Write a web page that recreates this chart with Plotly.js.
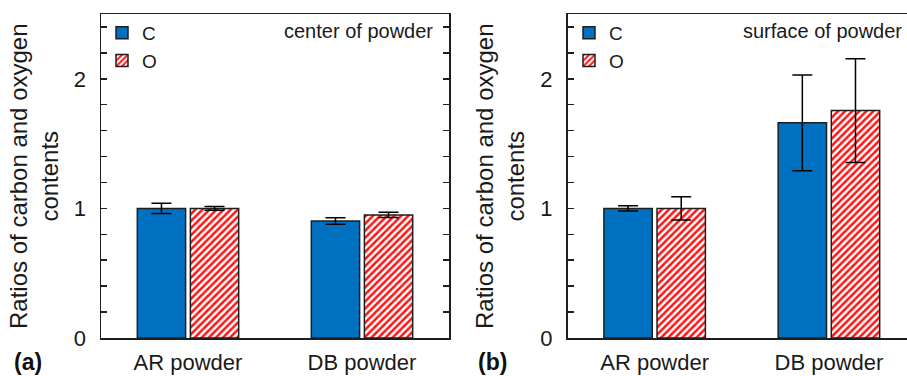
<!DOCTYPE html>
<html>
<head>
<meta charset="utf-8">
<script src="https://cdn.plot.ly/plotly-3.0.1.min.js"></script>
<style>html,body{margin:0;padding:0;background:#fff;}#chart{width:907px;height:376px;}</style>
</head>
<body>
<div id="chart"></div>
<script>
// ---- data ----
var categories = ['AR powder', 'DB powder'];
var centerC = [1.0, 0.903];
var centerCErr = [0.04, 0.025];
var centerO = [1.0, 0.95];
var centerOErr = [0.015, 0.02];
var surfaceC = [1.0, 1.66];
var surfaceCErr = [0.02, 0.37];
var surfaceO = [1.0, 1.755];
var surfaceOErr = [0.09, 0.40];
var seriesNames = ['C', 'O'];
var yTickVals = [0, 1, 2];
var yTickText = ['0', '1', '2'];

var W = 907, H = 376, ML = 0, MR = 0, MT = 14, MB = 38;
function px(x) { return (x - ML) / (W - ML - MR); }
function py(y) { return (H - MB - y) / (H - MT - MB); }

var blue = 'rgb(0,112,192)';
var red = 'rgb(255,20,20)';
var edge = '#1e1e1e';
var FONT = 'Liberation Sans, Arial, sans-serif';

function cTrace(vals, errs, xa, ya, lg) {
  return {
    type: 'bar', x: categories, y: vals, name: seriesNames[0],
    xaxis: xa, yaxis: ya, legend: lg,
    marker: { color: blue, line: { color: edge, width: 1.5 } },
    error_y: { type: 'data', array: errs, visible: true, color: '#000', thickness: 1.5, width: 10 }
  };
}
function oTrace(vals, errs, xa, ya, lg) {
  return {
    type: 'bar', x: categories, y: vals, name: seriesNames[1],
    xaxis: xa, yaxis: ya, legend: lg,
    marker: {
      color: '#fff', line: { color: edge, width: 1.5 },
      pattern: { shape: '/', fgcolor: red, bgcolor: '#fff', size: 5, solidity: 0.5 }
    },
    error_y: { type: 'data', array: errs, visible: true, color: '#000', thickness: 1.5, width: 10 }
  };
}

var data = [
  cTrace(centerC, centerCErr, 'x', 'y', 'legend'),
  oTrace(centerO, centerOErr, 'x', 'y', 'legend'),
  cTrace(surfaceC, surfaceCErr, 'x2', 'y2', 'legend2'),
  oTrace(surfaceO, surfaceOErr, 'x2', 'y2', 'legend2')
];

function yAxis(anchor, mirror) {
  return {
    anchor: anchor, domain: [0, 1], range: [0, 2.5], fixedrange: true,
    tickmode: 'array', tickvals: yTickVals, ticktext: yTickText,
    ticks: 'inside', ticklen: 6, tickwidth: 1.5, tickcolor: edge,
    minor: { dtick: 0.2, tick0: 0, ticks: 'inside', ticklen: 6, tickwidth: 1.5, tickcolor: edge },
    showgrid: false, zeroline: false,
    showline: true, linecolor: edge, linewidth: 1.5, mirror: mirror,
    tickfont: { family: FONT, size: 22, color: '#1a1a1a' },
    ticklabelstandoff: 9
  };
}
function xAxis(anchor, dom, range) {
  return {
    anchor: anchor, domain: dom, range: range, type: 'category', fixedrange: true,
    ticks: '', showgrid: false, zeroline: false,
    showline: true, linecolor: edge, linewidth: 1.5, mirror: true,
    tickfont: { family: FONT, size: 22, color: '#1a1a1a' },
    ticklabelstandoff: 4
  };
}

var legendBase = {
  orientation: 'v', xanchor: 'left', yanchor: 'top',
  bgcolor: 'rgba(0,0,0,0)', borderwidth: 0,
  font: { family: FONT, size: 19, color: '#1a1a1a' },
  itemwidth: 30, tracegroupgap: 0
};

var layout = {
  width: W, height: H,
  margin: { l: ML, r: MR, t: MT, b: MB, pad: 0 },
  paper_bgcolor: '#fff', plot_bgcolor: '#fff',
  barmode: 'group', bargap: 0.39, bargroupgap: 0.09,
  showlegend: true,
  xaxis: xAxis('y', [px(101), px(449)], [-0.5, 1.5]),
  yaxis: yAxis('x', 'ticks'),
  xaxis2: xAxis('y2', [px(567.5), 1], [-0.5, 1.448]),
  yaxis2: yAxis('x2', false),
  legend: Object.assign({}, legendBase, { x: px(102), y: py(14) }),
  legend2: Object.assign({}, legendBase, { x: px(569), y: py(14) }),
  annotations: [
    { xref: 'paper', yref: 'paper', x: px(435), y: py(31), xanchor: 'right', yanchor: 'middle',
      text: 'center of powder', showarrow: false, font: { family: FONT, size: 20, color: '#1a1a1a' } },
    { xref: 'paper', yref: 'paper', x: px(904), y: py(31), xanchor: 'right', yanchor: 'middle',
      text: 'surface of powder', showarrow: false, font: { family: FONT, size: 20, color: '#1a1a1a' } },
    { xref: 'paper', yref: 'paper', x: px(34), y: py(176), xanchor: 'center', yanchor: 'middle', textangle: -90,
      text: 'Ratios of carbon and oxygen<br>contents', showarrow: false,
      font: { family: FONT, size: 24, color: '#1a1a1a' } },
    { xref: 'paper', yref: 'paper', x: px(500), y: py(176), xanchor: 'center', yanchor: 'middle', textangle: -90,
      text: 'Ratios of carbon and oxygen<br>contents', showarrow: false,
      font: { family: FONT, size: 24, color: '#1a1a1a' } },
    { xref: 'paper', yref: 'paper', x: px(28), y: py(376), xanchor: 'center', yanchor: 'bottom', borderpad: 0,
      text: '<b>(a)</b>', showarrow: false, font: { family: FONT, size: 23, color: '#111' } },
    { xref: 'paper', yref: 'paper', x: px(493), y: py(376), xanchor: 'center', yanchor: 'bottom', borderpad: 0,
      text: '<b>(b)</b>', showarrow: false, font: { family: FONT, size: 23, color: '#111' } }
  ]
};

Plotly.newPlot('chart', data, layout, { staticPlot: true, displayModeBar: false });
</script>
</body>
</html>
